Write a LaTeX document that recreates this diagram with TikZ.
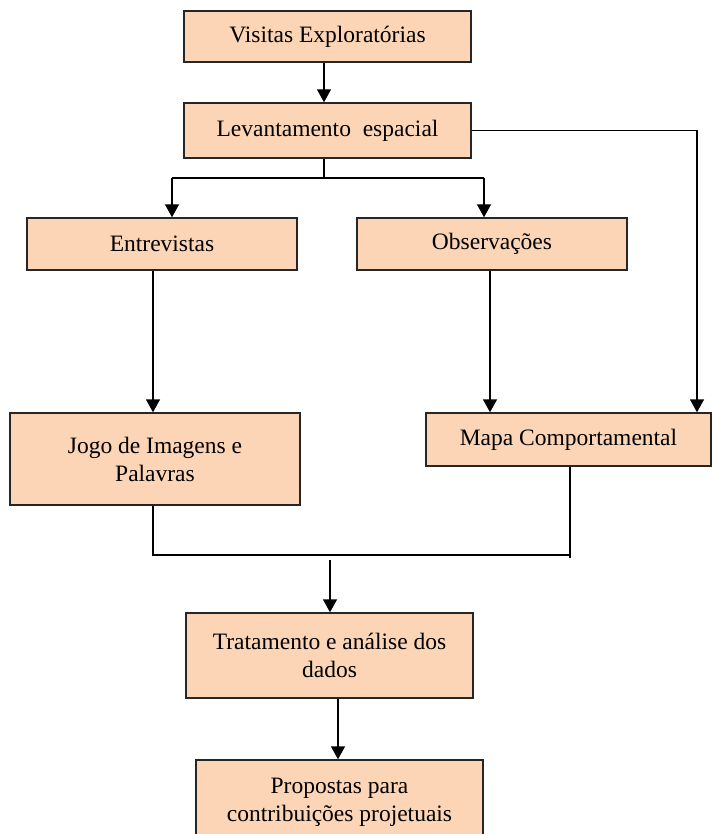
\documentclass[tikz,border=0pt]{standalone}
\usepackage{fontspec}
\setmainfont{Liberation Serif}
\usetikzlibrary{arrows.meta,calc}
\definecolor{peach}{HTML}{FBD5B5}
\begin{document}
\begin{tikzpicture}[x=1pt,y=-1pt,
  box/.style={draw=black!85,line width=1.4pt,fill=peach,inner sep=0pt,align=center,
    font=\fontsize{23.5}{28}\selectfont},
  conn/.style={line width=1.4pt},
  arr/.style={line width=1.4pt,-{Triangle[width=14pt,length=13pt]}}]
\useasboundingbox (0,0) rectangle (713,834);
\node[box,minimum width=287pt,minimum height=51pt] (v1) at (327.5,36.5) {Visitas Exploratórias};
\node[box,minimum width=287pt,minimum height=55pt] (lev) at (327.5,130.5) {Levantamento\ \ espacial};
\node[box,minimum width=270pt,minimum height=52pt] (ent) at (162,244) {Entrevistas};
\node[box,minimum width=270pt,minimum height=52pt] (obs) at (492,244) {Observações};
\node[box,minimum width=290pt,minimum height=92pt] (jogo) at (155,459) {Jogo de Imagens e\\Palavras};
\node[box,minimum width=285pt,minimum height=53pt] (mapa) at (568.5,439.5) {Mapa Comportamental};
\node[box,minimum width=287pt,minimum height=85pt] (trat) at (329.5,655.5) {Tratamento e análise dos\\dados};
\node[box,minimum width=287pt,minimum height=85pt] (prop) at (339.5,802.5) {Propostas para\\contribuições projetuais};
% connectors
\coordinate (split) at (324,178);
\coordinate (joinL) at (153,555);
\coordinate (joinR) at (570,555);
\coordinate (joinEnd) at (570,558);
\coordinate (mid) at (330,560);
\coordinate (corner) at (697,130.5);
\draw[arr] (v1.south -| 324,0) -- (lev.north -| 324,0);
\draw[conn] (lev.south -| split) -- (split);
\draw[conn] (172,178) -- (484,178);
\draw[arr] (172,178) -- (ent.north -| 172,0);
\draw[arr] (484,178) -- (obs.north -| 484,0);
\draw[arr] (lev.east) -- (corner) -- (mapa.north -| corner);
\draw[arr] (ent.south -| 153,0) -- (jogo.north -| 153,0);
\draw[arr] (obs.south -| 490,0) -- (mapa.north -| 490,0);
\draw[conn] (jogo.south -| joinL) -- (joinL) -- (joinR);
\draw[conn] (mapa.south -| joinR) -- (joinEnd);
\draw[arr] (mid) -- (trat.north -| mid);
\draw[arr] (trat.south -| 338,0) -- (prop.north -| 338,0);
\end{tikzpicture}
\end{document}
